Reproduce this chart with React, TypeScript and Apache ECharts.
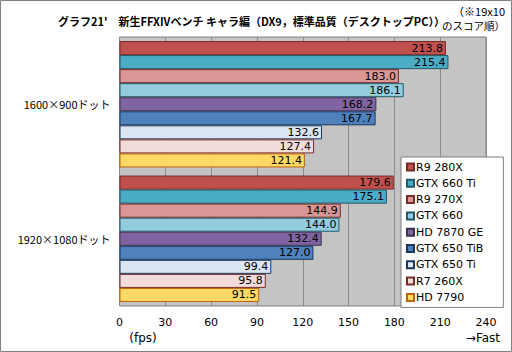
import React, { useEffect, useRef } from "react";
import * as echarts from "echarts";

const categories = ["1600×900ドット", "1920×1080ドット"];
const seriesNames = ["R9 280X", "GTX 660 Ti", "R9 270X", "GTX 660", "HD 7870 GE", "GTX 650 TiB", "GTX 650 Ti", "R7 260X", "HD 7790"];
const r9280x = [213.8, 179.6];
const gtx660ti = [215.4, 175.1];
const r9270x = [183.0, 144.9];
const gtx660 = [186.1, 144.0];
const hd7870ge = [168.2, 132.4];
const gtx650tib = [167.7, 127.0];
const gtx650ti = [132.6, 99.4];
const r7260x = [127.4, 95.8];
const hd7790 = [121.4, 91.5];
const seriesValues = [r9280x, gtx660ti, r9270x, gtx660, hd7870ge, gtx650tib, gtx650ti, r7260x, hd7790];
const fills = ["#c0504d", "#4bacc6", "#d99694", "#93cddd", "#8064a2", "#4f81bd", "#dce6f2", "#f2dcdb", "#ffd966"];
const borders = ["#772c2a", "#215968", "#772c2a", "#215968", "#3f3151", "#17375e", "#17375e", "#772c2a", "#c0640c"];
const xTicks = [0, 30, 60, 90, 120, 150, 180, 210, 240];

const NUM_FONT = "DejaVu Sans";
const JP_FONT = "Noto Sans CJK JP";

export default function App() {
  const ref = useRef<HTMLDivElement>(null);
  useEffect(() => {
    const chart = echarts.init(ref.current!, null, { renderer: "svg" });
    chart.setOption({
      animation: false,
      backgroundColor: "#ffffff",
      grid: {
        left: 119.5, top: 37, right: 26, bottom: 46,
        show: true, backgroundColor: "#c4c4c4", borderColor: "#808080", borderWidth: 1,
      },
      xAxis: {
        type: "value", min: xTicks[0], max: xTicks[xTicks.length - 1], interval: 30,
        axisLine: { show: false }, axisTick: { show: false },
        splitLine: { show: true, lineStyle: { color: "#8a8a8a", width: 1 } },
        axisLabel: { color: "#000", fontSize: 11, fontFamily: NUM_FONT, margin: 11 },
      },
      yAxis: {
        type: "category", data: categories, inverse: true,
        axisLine: { show: false }, axisTick: { show: false },
        axisLabel: { color: "#000", fontSize: 11, fontFamily: JP_FONT, margin: 9 },
      },
      legend: {
        orient: "vertical", left: 401, top: 157, width: 82,
        backgroundColor: "#ffffff", borderColor: "#808080", borderWidth: 1,
        padding: [3, 20, 3, 5], itemWidth: 7, itemHeight: 7, itemGap: 2.3,
        icon: "rect",
        textStyle: { color: "#000", fontSize: 11, fontFamily: NUM_FONT, lineHeight: 14, padding: [0, 0, 0, -3] },
        data: seriesNames,
      },
      series: seriesNames.map((name, i) => ({
        type: "bar", name, data: seriesValues[i],
        barCategoryGap: "6%", barGap: "0%",
        itemStyle: { color: fills[i], borderColor: borders[i], borderWidth: 1 },
        label: {
          show: true, position: "insideRight", distance: 3, color: "#000",
          fontSize: 11, fontFamily: NUM_FONT,
          formatter: (p: any) => Number(p.value).toFixed(1),
        },
      })),
      graphic: [
        { type: "rect", shape: { x: 0.5, y: 0.5, width: 511, height: 351 }, style: { fill: "none", stroke: "#808080", lineWidth: 1 }, silent: true },
        { type: "text", x: 58, y: 15, style: { text: "グラフ21'　新生FFXIVベンチ キャラ編（DX9，標準品質（デスクトップPC））", font: `bold 11px "${JP_FONT}"`, fill: "#000" } },
        { type: "text", x: 505, y: 5, style: { text: "（※19x10", font: `11px "${JP_FONT}"`, fill: "#000", align: "right" } },
        { type: "text", x: 505, y: 20, style: { text: "のスコア順）", font: `10.5px "${JP_FONT}"`, fill: "#000", align: "right" } },
        { type: "text", x: 143, y: 332, style: { text: "(fps)", font: `12px "${NUM_FONT}"`, fill: "#000", align: "center" } },
        { type: "text", x: 500, y: 332, style: { text: "→Fast", font: `12px "${NUM_FONT}"`, fill: "#000", align: "right" } },
      ],
    });
    return () => chart.dispose();
  }, []);
  return <div ref={ref} style={{ position: "fixed", left: 0, top: 0, width: 512, height: 352 }} />;
}
